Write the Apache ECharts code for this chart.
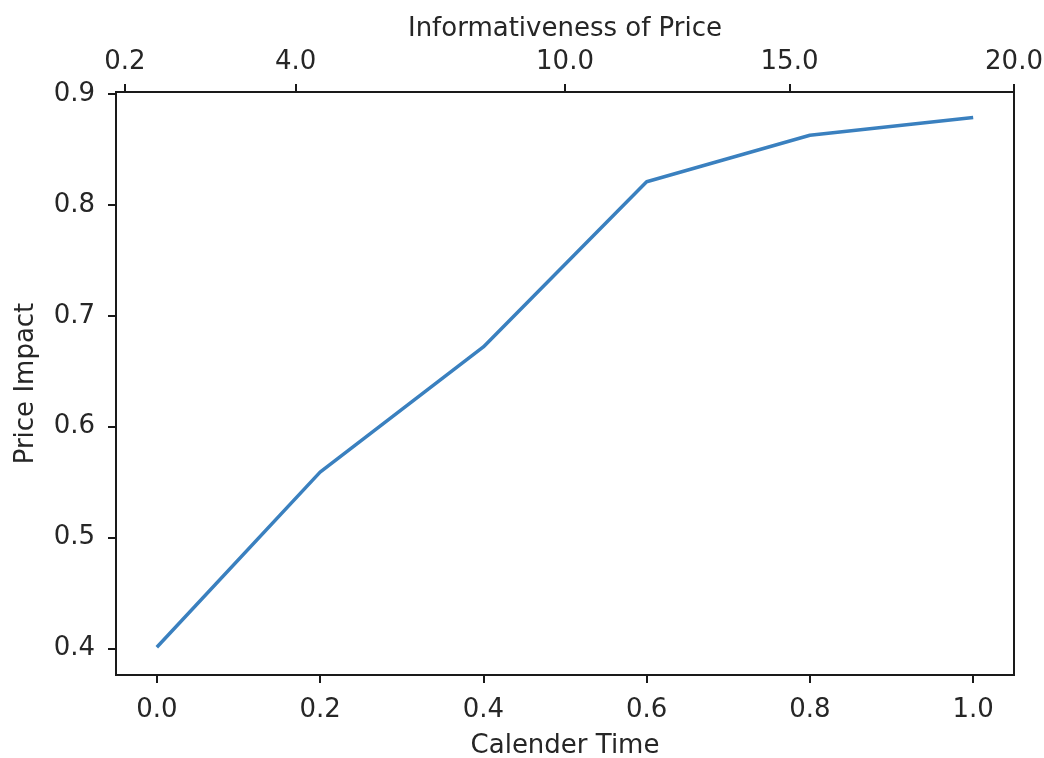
<!DOCTYPE html>
<html>
<head>
<meta charset="utf-8">
<script src="https://cdn.jsdelivr.net/npm/echarts@6/dist/echarts.min.js"></script>
<style>
  html, body { margin: 0; padding: 0; background: #fff; }
  #chart { width: 1044px; height: 758px; }
</style>
</head>
<body>
<div id="chart"></div>
<script>
// Calendar time (bottom axis) and price impact along the curve
const calendarTime = [0.0, 0.2, 0.4, 0.6, 0.8, 1.0];
const priceImpact = [0.401, 0.559, 0.672, 0.821, 0.863, 0.879];

// Tick values for each axis
const bottomTicks = [0.0, 0.2, 0.4, 0.6, 0.8, 1.0];
const leftTicks = [0.4, 0.5, 0.6, 0.7, 0.8, 0.9];
// Informativeness-of-price scale shown along the top edge
const topTicks = [0.2, 4.0, 10.0, 15.0, 20.0];

const FONT = 'DejaVu Sans';
const TEXT = '#262626';
const FS = 26;

const chart = echarts.init(document.getElementById('chart'), null, { renderer: 'canvas' });

const axisLineStyle = { show: true, onZero: false, lineStyle: { color: '#1a1a1a', width: 2 } };
const tickStyle = { show: true, inside: false, length: 8, lineStyle: { color: '#1a1a1a', width: 2 } };

chart.setOption({
  backgroundColor: '#ffffff',
  animation: false,
  grid: {
    left: 116, right: 30, top: 92, bottom: 83,
    outerBoundsMode: 'none',
    containLabel: false,
    show: true, borderColor: '#1a1a1a', borderWidth: 2, backgroundColor: 'transparent'
  },
  xAxis: [
    {
      type: 'value',
      position: 'bottom',
      min: -0.05,
      max: 1.05,
      name: 'Calender Time',
      nameLocation: 'middle',
      nameGap: 58,
      nameTextStyle: { fontFamily: FONT, fontSize: FS, color: TEXT },
      axisLine: axisLineStyle,
      axisTick: Object.assign({ customValues: bottomTicks }, tickStyle),
      axisLabel: {
        customValues: bottomTicks,
        formatter: v => v.toFixed(1),
        fontFamily: FONT, fontSize: FS, color: TEXT, margin: 22
      },
      splitLine: { show: false }
    },
    {
      type: 'value',
      position: 'top',
      min: 0,
      max: 20,
      name: 'Informativeness of Price',
      nameLocation: 'middle',
      nameGap: 50,
      nameTextStyle: { fontFamily: FONT, fontSize: FS, color: TEXT },
      axisLine: axisLineStyle,
      axisTick: Object.assign({ customValues: topTicks }, tickStyle),
      axisLabel: {
        customValues: topTicks,
        formatter: v => v.toFixed(1),
        fontFamily: FONT, fontSize: FS, color: TEXT, margin: 17
      },
      splitLine: { show: false }
    }
  ],
  yAxis: {
    type: 'value',
    min: 0.376,
    max: 0.902,
    name: 'Price Impact',
    nameLocation: 'middle',
    nameGap: 77,
    nameRotate: 90,
    nameTextStyle: { fontFamily: FONT, fontSize: FS, color: TEXT },
    axisLine: axisLineStyle,
    axisTick: Object.assign({ customValues: leftTicks }, tickStyle),
    axisLabel: {
      customValues: leftTicks,
      formatter: v => v.toFixed(1),
      fontFamily: FONT, fontSize: FS, color: TEXT, margin: 21
    },
    splitLine: { show: false }
  },
  series: [
    {
      type: 'line',
      xAxisIndex: 0,
      data: calendarTime.map((t, i) => [t, priceImpact[i]]),
      showSymbol: false,
      lineStyle: { color: '#3a80bf', width: 3.5 },
      itemStyle: { color: '#3a80bf' }
    }
  ]
});
</script>
</body>
</html>
